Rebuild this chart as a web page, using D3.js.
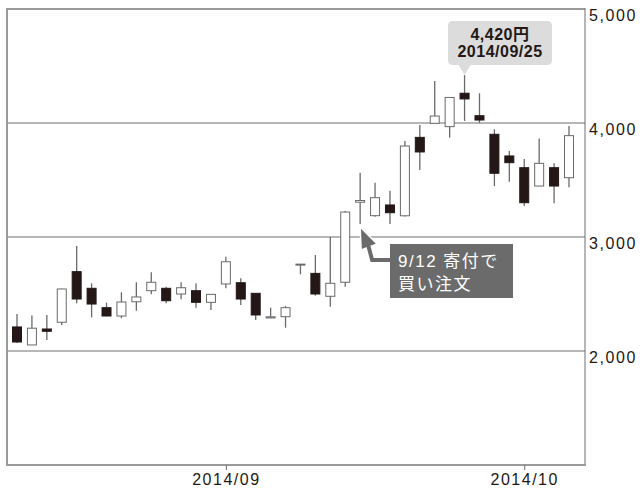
<!DOCTYPE html>
<html><head><meta charset="utf-8">
<script src="https://cdn.jsdelivr.net/npm/d3@7"></script>
<style>
html,body{margin:0;padding:0;background:#fff;}
svg{display:block;font-family:"Liberation Sans",Arial,"Noto Sans CJK JP",sans-serif;}
</style></head><body>
<svg id="c" width="640" height="496"></svg>
<script>
const dates = ["2014-08-12","2014-08-13","2014-08-14","2014-08-15","2014-08-18","2014-08-19","2014-08-20","2014-08-21","2014-08-22","2014-08-25","2014-08-26","2014-08-27","2014-08-28","2014-08-29",
"2014-09-01","2014-09-02","2014-09-03","2014-09-04","2014-09-05","2014-09-08","2014-09-09","2014-09-10","2014-09-11","2014-09-12","2014-09-16","2014-09-17","2014-09-18","2014-09-19","2014-09-22","2014-09-24","2014-09-25","2014-09-26","2014-09-29","2014-09-30",
"2014-10-01","2014-10-02","2014-10-03","2014-10-06"];
const opens  = [2211,2053,2193,2252,2696,2550,2380,2307,2432,2529,2550,2500,2529,2427, 2588,2599,2506,2290,2301,2758,2681,2480,2603,3305,3187,3281,3186,3874,3997,3968,4261,4064,3901,3711, 3608,3447,3608,3520];
const highs  = [2324,2311,2316,2546,2921,2594,2424,2515,2603,2690,2564,2603,2594,2497, 2827,2638,2506,2380,2395,2762,2842,3000,3228,3564,3476,3406,3842,3982,4368,4224,4420,4261,3945,3754, 3684,3865,3646,3974];
const lows   = [2070,2053,2096,2228,2418,2295,2305,2287,2353,2497,2418,2453,2380,2360, 2550,2404,2272,2287,2204,2673,2485,2389,2564,3114,3178,3114,3180,3588,3997,3871,4018,4000,3447,3485, 3272,3447,3296,3436];
const closes = [2079,2200,2173,2544,2456,2412,2307,2430,2474,2603,2441,2555,2427,2497, 2783,2456,2316,2300,2380,2762,2500,2594,3219,3320,3345,3213,3798,3746,4061,4224,4211,4026,3559,3652, 3301,3646,3447,3889];
const yTicks = [2000,3000,4000,5000];
const yTickLabels = ["2,000","3,000","4,000","5,000"];
const xTicks = ["2014-09-01","2014-10-01"];
const xTickLabels = ["2014/09","2014/10"];
const peakLabel = ["4,420円","2014/09/25"];
const peakDate = "2014-09-25", peakValue = 4420;
const noteLabel = ["9/12 寄付で","買い注文"];
const noteDate = "2014-09-12";

const data = dates.map((d,i)=>({d, o:opens[i], h:highs[i], l:lows[i], c:closes[i]}));

const L=7, R=585, T=9, B=465;
const svg = d3.select("#c");
const x = d3.scalePoint().domain(dates).range([17,569]);
const y = d3.scaleLinear().domain([1000,5000]).range([B,T]);
const ink = "#231815", grid="#6e6e6e", frame="#9a9a9a", wick="#6a6a6a";

// gridlines
svg.append("g").selectAll("line").data(yTicks.filter(v=>v<5000)).join("line")
  .attr("x1",L).attr("x2",R).attr("y1",d=>y(d)).attr("y2",d=>y(d))
  .attr("stroke",grid).attr("stroke-width",1);

// frame
svg.append("line").attr("x1",L).attr("x2",R).attr("y1",y(5000)).attr("y2",y(5000)).attr("stroke",frame).attr("stroke-width",2);
svg.append("line").attr("x1",L).attr("x2",L).attr("y1",T-1).attr("y2",B).attr("stroke",frame).attr("stroke-width",2);
svg.append("line").attr("x1",R).attr("x2",R).attr("y1",T-1).attr("y2",B).attr("stroke",grid).attr("stroke-width",1);

// right axis labels
const yAxis = d3.axisRight(y).tickValues(yTicks).tickSize(0)
  .tickFormat((d,i)=>yTickLabels[i]);
const gy = svg.append("g").attr("transform",`translate(${R+4},0)`).call(yAxis);
gy.select(".domain").remove();
gy.selectAll("text").attr("x",0).attr("dy",null).attr("y",11)
  .attr("font-size",16).attr("letter-spacing",1.6).attr("fill",ink)
  .attr("font-family","'Liberation Sans',Arial,sans-serif");

// bottom axis
const xAxis = d3.axisBottom(x).tickValues(xTicks).tickSize(5).tickPadding(4)
  .tickFormat((d,i)=>xTickLabels[i]);
const gx = svg.append("g").attr("transform",`translate(0,${B})`).call(xAxis);
gx.select(".domain").attr("d",`M${L-1},0H${R+1}`).attr("stroke",frame).attr("stroke-width",2);
gx.selectAll(".tick line").attr("stroke",grid);
gx.selectAll("text").attr("font-size",16).attr("letter-spacing",1.5).attr("fill",ink)
  .attr("font-family","'Liberation Sans',Arial,sans-serif");

// candles
const bw = 10;
const cg = svg.append("g");
cg.selectAll("line.w").data(data).join("line").attr("class","w")
  .attr("x1",d=>x(d.d)).attr("x2",d=>x(d.d))
  .attr("y1",d=>y(d.h)).attr("y2",d=>y(d.l))
  .attr("stroke",wick).attr("stroke-width",1.3);
cg.selectAll("rect").data(data).join("rect")
  .attr("x",d=>x(d.d)-bw/2+0.5)
  .attr("y",d=>y(Math.max(d.o,d.c)))
  .attr("width",bw-1)
  .attr("height",d=>Math.max(1,Math.abs(y(d.o)-y(d.c))))
  .attr("fill",d=>d.c>=d.o?"#fff":ink)
  .attr("stroke",d=>d.c>=d.o?wick:ink)
  .attr("stroke-width",1);

// peak callout
const px = x(peakDate), py = y(peakValue);
const bx0=448, bx1=552, by0=21, by1=65;
const cb = svg.append("g");
cb.append("path")
  .attr("d",`M${bx0+5},${by0} H${bx1-5} Q${bx1},${by0} ${bx1},${by0+5} V${by1-5} Q${bx1},${by1} ${bx1-5},${by1} H${px+6} L${px},${py} L${px-6},${by1} H${bx0+5} Q${bx0},${by1} ${bx0},${by1-5} V${by0+5} Q${bx0},${by0} ${bx0+5},${by0} Z`)
  .attr("fill","#dcdcdc");
cb.selectAll("text").data(peakLabel).join("text")
  .attr("x",(bx0+bx1)/2).attr("y",(d,i)=>40+i*17)
  .attr("text-anchor","middle").attr("font-size",16).attr("font-weight","bold")
  .attr("letter-spacing",0.5)
  .attr("fill",ink).attr("font-family","'Liberation Sans',Arial,'Noto Sans CJK JP',sans-serif")
  .text(d=>d);

// note arrow and box
const nx = x(noteDate), ny = y(lows[dates.indexOf(noteDate)]);
const ng = svg.append("g");
const tipX = nx, tipY = ny+3;
const arrowHead = `M${tipX},${tipY} L${tipX+17},${tipY+17} L${tipX+1},${tipY+23} Z`;
const shaft = `M${tipX+8},${tipY+18} L${tipX+12},${tipY+33} L${tipX+32},${tipY+33}`;
ng.append("path").attr("d",shaft).attr("fill","none").attr("stroke","#fff").attr("stroke-width",7);
ng.append("path").attr("d",arrowHead).attr("fill","#6b6b6b").attr("stroke","#fff").attr("stroke-width",1.5).attr("stroke-linejoin","round");
ng.append("path").attr("d",shaft).attr("fill","none").attr("stroke","#6b6b6b").attr("stroke-width",4);
ng.append("rect").attr("x",390).attr("y",244).attr("width",123).attr("height",54).attr("fill","#6b6b6b");
ng.selectAll("text").data(noteLabel).join("text")
  .attr("x",398).attr("y",(d,i)=>267+i*23)
  .attr("font-size",17).attr("fill","#fff").attr("letter-spacing",1.5)
  .attr("font-family","'Liberation Sans','Noto Sans CJK JP',sans-serif")
  .text(d=>d);
</script></body></html>
